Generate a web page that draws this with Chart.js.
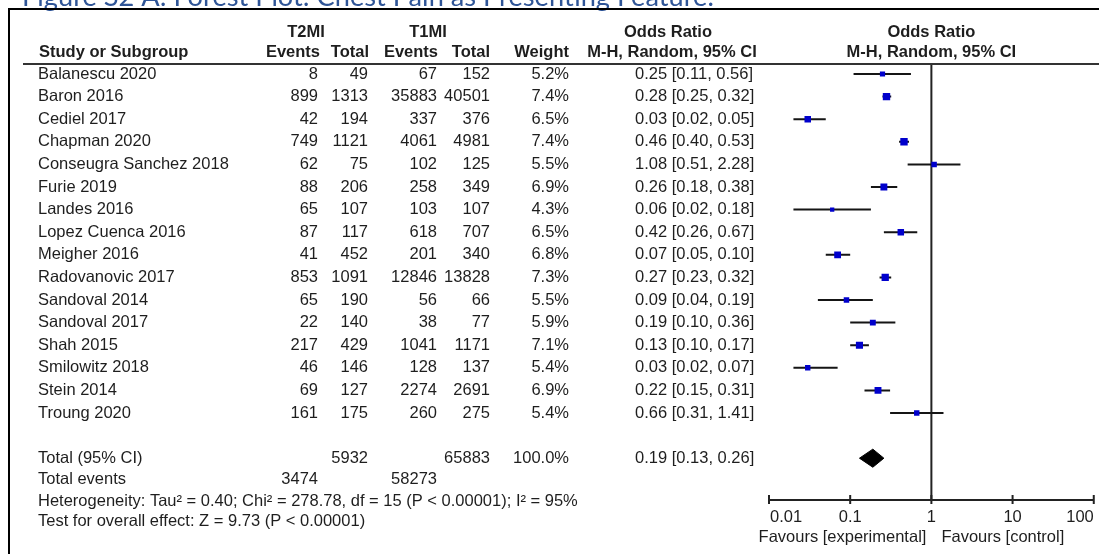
<!DOCTYPE html>
<html>
<head>
<meta charset="utf-8">
<script src="https://cdn.jsdelivr.net/npm/chart.js@4.4.1/dist/chart.umd.min.js"></script>
<style>
    html, body { margin: 0; padding: 0; background: #fff; }
    #wrap { width: 1099px; height: 554px; }
</style>
</head>
<body>
<div id="wrap"><canvas id="forest" width="1099" height="554"></canvas></div>
<script>
const title = "Figure S2 A: Forest Plot: Chest Pain as Presenting Feature.";

const studies = ["Balanescu 2020", "Baron 2016", "Cediel 2017", "Chapman 2020", "Conseugra Sanchez 2018",
    "Furie 2019", "Landes 2016", "Lopez Cuenca 2016", "Meigher 2016", "Radovanovic 2017",
    "Sandoval 2014", "Sandoval 2017", "Shah 2015", "Smilowitz 2018", "Stein 2014", "Troung 2020"];
const t2Events = [8, 899, 42, 749, 62, 88, 65, 87, 41, 853, 65, 22, 217, 46, 69, 161];
const t2Total = [49, 1313, 194, 1121, 75, 206, 107, 117, 452, 1091, 190, 140, 429, 146, 127, 175];
const t1Events = [67, 35883, 337, 4061, 102, 258, 103, 618, 201, 12846, 56, 38, 1041, 128, 2274, 260];
const t1Total = [152, 40501, 376, 4981, 125, 349, 107, 707, 340, 13828, 66, 77, 1171, 137, 2691, 275];
const weights = [5.2, 7.4, 6.5, 7.4, 5.5, 6.9, 4.3, 6.5, 6.8, 7.3, 5.5, 5.9, 7.1, 5.4, 6.9, 5.4];
const oddsRatio = [0.25, 0.28, 0.03, 0.46, 1.08, 0.26, 0.06, 0.42, 0.07, 0.27, 0.09, 0.19, 0.13, 0.03, 0.22, 0.66];
const ciLow = [0.11, 0.25, 0.02, 0.40, 0.51, 0.18, 0.02, 0.26, 0.05, 0.23, 0.04, 0.10, 0.10, 0.02, 0.15, 0.31];
const ciHigh = [0.56, 0.32, 0.05, 0.53, 2.28, 0.38, 0.18, 0.67, 0.10, 0.32, 0.19, 0.36, 0.17, 0.07, 0.31, 1.41];

const totalT2 = 5932;
const totalT1 = 65883;
const totalWeight = 100.0;
const pooledOR = 0.19;
const pooledLow = 0.13;
const pooledHigh = 0.26;
const eventsT2 = 3474;
const eventsT1 = 58273;
const heterogeneity = "Heterogeneity: Tau\u00B2 = 0.40; Chi\u00B2 = 278.78, df = 15 (P < 0.00001); I\u00B2 = 95%";
const overallEffect = "Test for overall effect: Z = 9.73 (P < 0.00001)";

const xTicks = [0.01, 0.1, 1, 10, 100];
const xTickLabels = ["0.01", "0.1", "1", "10", "100"];

// row of the pooled diamond: one blank row after the last study
const totalRow = studies.length + 1;

const fmtOR = (o, l, h) => `${o.toFixed(2)} [${l.toFixed(2)}, ${h.toFixed(2)}]`;

// CI whiskers as one broken line
const ciData = [];
studies.forEach((s, i) => {
    ciData.push({ x: ciLow[i], y: i }, { x: ciHigh[i], y: i }, { x: ciHigh[i], y: null });
});

const pointData = studies.map((s, i) => ({ x: oddsRatio[i], y: i }));

const diamondData = [
    { x: pooledLow, y: totalRow },
    { x: pooledOR, y: totalRow - 0.4 },
    { x: pooledHigh, y: totalRow },
    { x: pooledOR, y: totalRow + 0.4 },
    { x: pooledLow, y: totalRow }
];

const FONT = "'Liberation Sans', Arial, sans-serif";
const INK = "#1e1e1e";

function txt(ctx, s, x, y, align, bold) {
    ctx.font = (bold ? "bold " : "") + "16.5px " + FONT;
    ctx.textAlign = align;
    ctx.fillText(s, x, y);
}

const tablePlugin = {
    id: "forestTable",
    beforeDatasetsDraw(chart) {
        const { ctx, chartArea, scales } = chart;
        const x1 = scales.x.getPixelForValue(1);
        ctx.save();
        ctx.strokeStyle = "#222";
        ctx.lineWidth = 2;
        ctx.beginPath();
        ctx.moveTo(x1, chartArea.top);
        ctx.lineTo(x1, chartArea.bottom);
        ctx.stroke();
        ctx.restore();
    },
    afterDraw(chart) {
        const { ctx, chartArea, scales } = chart;
        const xs = scales.x, ys = scales.y;
        ctx.save();

        // title, mostly cut off at the top
        ctx.fillStyle = "#2f5597";
        ctx.textBaseline = "alphabetic";
        ctx.font = "24px Lato, 'Open Sans', sans-serif";
        const tw = ctx.measureText(title).width;
        ctx.font = (24 * 693 / tw).toFixed(1) + "px Lato, 'Open Sans', sans-serif";
        ctx.textAlign = "left";
        ctx.fillText(title, 22, 6);

        // frame
        ctx.strokeStyle = "#000";
        ctx.lineWidth = 2;
        ctx.beginPath();
        ctx.moveTo(9, 554);
        ctx.lineTo(9, 9);
        ctx.lineTo(1099, 9);
        ctx.stroke();

        // header rule
        ctx.strokeStyle = "#333";
        ctx.beginPath();
        ctx.moveTo(23, chartArea.top);
        ctx.lineTo(1099, chartArea.top);
        ctx.stroke();

        ctx.fillStyle = INK;
        ctx.textBaseline = "middle";

        // headers
        txt(ctx, "T2MI", 306, 32, "center", true);
        txt(ctx, "T1MI", 428, 32, "center", true);
        txt(ctx, "Odds Ratio", 668, 32, "center", true);
        txt(ctx, "Odds Ratio", xs.getPixelForValue(1), 32, "center", true);
        txt(ctx, "Study or Subgroup", 39, 52, "left", true);
        txt(ctx, "Events", 320, 52, "right", true);
        txt(ctx, "Total", 369, 52, "right", true);
        txt(ctx, "Events", 438, 52, "right", true);
        txt(ctx, "Total", 490, 52, "right", true);
        txt(ctx, "Weight", 569, 52, "right", true);
        txt(ctx, "M-H, Random, 95% CI", 672, 52, "center", true);
        txt(ctx, "M-H, Random, 95% CI", xs.getPixelForValue(1), 52, "center", true);

        // study rows
        studies.forEach((s, i) => {
            const y = ys.getPixelForValue(i);
            txt(ctx, s, 38, y, "left");
            txt(ctx, String(t2Events[i]), 318, y, "right");
            txt(ctx, String(t2Total[i]), 368, y, "right");
            txt(ctx, String(t1Events[i]), 437, y, "right");
            txt(ctx, String(t1Total[i]), 490, y, "right");
            txt(ctx, weights[i].toFixed(1) + "%", 569, y, "right");
            txt(ctx, fmtOR(oddsRatio[i], ciLow[i], ciHigh[i]), 635, y, "left");
        });

        // totals
        const yt = ys.getPixelForValue(totalRow);
        txt(ctx, "Total (95% CI)", 38, yt, "left");
        txt(ctx, String(totalT2), 368, yt, "right");
        txt(ctx, String(totalT1), 490, yt, "right");
        txt(ctx, totalWeight.toFixed(1) + "%", 569, yt, "right");
        txt(ctx, fmtOR(pooledOR, pooledLow, pooledHigh), 635, yt, "left");
        txt(ctx, "Total events", 38, 479, "left");
        txt(ctx, String(eventsT2), 318, 479, "right");
        txt(ctx, String(eventsT1), 437, 479, "right");
        txt(ctx, heterogeneity, 38, 501, "left");
        txt(ctx, overallEffect, 38, 521, "left");

        // x axis
        const yb = chartArea.bottom;
        const xa = xs.getPixelForValue(xTicks[0]);
        const xb = xs.getPixelForValue(xTicks[xTicks.length - 1]);
        ctx.strokeStyle = "#222";
        ctx.lineWidth = 2;
        ctx.beginPath();
        ctx.moveTo(xa, yb);
        ctx.lineTo(xb, yb);
        xTicks.forEach(t => {
            const px = Math.min(xs.getPixelForValue(t), 1097);
            ctx.moveTo(px, yb - 5);
            ctx.lineTo(px, yb + 4);
        });
        ctx.stroke();
        xTicks.forEach((t, k) => {
            const px = xs.getPixelForValue(t);
            let align = "center";
            if (k === 0) align = "left";
            if (k === xTicks.length - 1) align = "right";
            txt(ctx, xTickLabels[k], align === "left" ? px + 1 : px, 517, align);
        });
        const x1 = xs.getPixelForValue(1);
        txt(ctx, "Favours [experimental]", x1 - 5, 537, "right");
        txt(ctx, "Favours [control]", x1 + 10, 537, "left");

        ctx.restore();
    }
};

new Chart(document.getElementById("forest"), {
    type: "scatter",
    data: {
        datasets: [
            {
                label: "Odds ratio",
                data: pointData,
                pointStyle: "rect",
                pointRadius: weights.map(w => w / Math.SQRT2),
                backgroundColor: "#0000cc",
                borderWidth: 0,
                order: 0
            },
            {
                label: "95% CI",
                type: "line",
                data: ciData,
                borderColor: "#151515",
                borderWidth: 2,
                pointRadius: 0,
                spanGaps: false,
                fill: false,
                order: 1
            },
            {
                label: "Pooled",
                type: "line",
                data: diamondData,
                borderColor: "#000",
                backgroundColor: "#000",
                borderWidth: 1,
                pointRadius: 0,
                fill: "shape",
                order: 0
            }
        ]
    },
    options: {
        responsive: false,
        animation: false,
        devicePixelRatio: 1,
        layout: { padding: { left: 769, right: 1, top: 64, bottom: 54 } },
        plugins: { legend: { display: false }, tooltip: { enabled: false } },
        scales: {
            x: { type: "logarithmic", min: 0.01, max: 100, display: false },
            y: { type: "linear", min: -0.4425, max: 18.85, reverse: true, display: false }
        }
    },
    plugins: [tablePlugin]
});
</script>
</body>
</html>
